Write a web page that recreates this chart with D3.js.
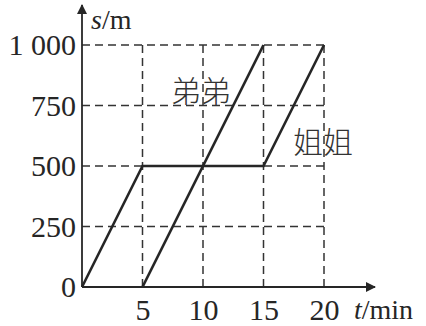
<!DOCTYPE html>
<html>
<head>
<meta charset="utf-8">
<script src="https://cdn.jsdelivr.net/npm/d3@7"></script>
<style>
  html, body { margin: 0; padding: 0; background: #fff; }
  svg { display: block; }
  .grid line { stroke: #333; stroke-width: 1.5; stroke-dasharray: 8 5; }
</style>
</head>
<body>
<div id="chart"></div>
<script>
// values
const xTicks = [5, 10, 15, 20];
const yTicks = [0, 250, 500, 750, 1000];
const yTickLabels = ["0", "250", "500", "750", "1 000"];

const sisterT = [0, 5, 15, 20];
const sisterS = [0, 500, 500, 1000];
const brotherT = [5, 15];
const brotherS = [0, 1000];

const seriesNames = ["姐姐", "弟弟"];

const width = 426;
const height = 326;
const serif = "'Liberation Serif', 'DejaVu Serif', serif";

const x = d3.scaleLinear().domain([0, 20]).range([82, 324]);
const y = d3.scaleLinear().domain([0, 1000]).range([287, 45]);

const svg = d3.select("#chart")
              .append("svg")
              .attr("width", width)
              .attr("height", height);

const ink = "#262626";

// dashed grid: horizontal
svg.append("g")
   .attr("class", "grid")
   .selectAll("line")
   .data(yTicks.filter(d => d > 0))
   .enter()
   .append("line")
   .attr("x1", x(0))
   .attr("x2", x(20))
   .attr("y1", d => y(d))
   .attr("y2", d => y(d));

// dashed grid: vertical
svg.append("g")
   .attr("class", "grid")
   .selectAll("line")
   .data(xTicks)
   .enter()
   .append("line")
   .attr("x1", d => x(d))
   .attr("x2", d => x(d))
   .attr("y1", y(0))
   .attr("y2", y(1000));

// y tick labels
const yAxis = d3.axisLeft(y)
                .tickValues(yTicks)
                .tickSize(0)
                .tickPadding(5)
                .tickFormat((d, i) => yTickLabels[i]);

const gy = svg.append("g")
              .attr("transform", `translate(${x(0) - 1},0)`)
              .call(yAxis)
              .attr("font-family", serif)
              .attr("font-size", 30);
gy.select(".domain").remove();
gy.selectAll(".tick text")
  .attr("dy", "0.33em")
  .attr("fill", ink);

// x tick labels
const xAxis = d3.axisBottom(x)
                .tickValues(xTicks)
                .tickSize(0)
                .tickPadding(0);

const gx = svg.append("g")
              .attr("transform", `translate(0,${y(0)})`)
              .call(xAxis)
              .attr("font-family", serif)
              .attr("font-size", 30);
gx.select(".domain").remove();
gx.selectAll(".tick text")
  .attr("dy", "1.1em")
  .attr("fill", ink);

// axes with arrows
svg.append("defs")
   .append("marker")
   .attr("id", "arrow")
   .attr("viewBox", "0 0 10 10")
   .attr("refX", 9)
   .attr("refY", 5)
   .attr("markerWidth", 10)
   .attr("markerHeight", 10)
   .attr("markerUnits", "userSpaceOnUse")
   .attr("orient", "auto")
   .append("path")
   .attr("d", "M0,0 L10,5 L0,10 Z")
   .attr("fill", ink);

svg.append("line")
   .attr("x1", x(0)).attr("y1", y(0))
   .attr("x2", x(0)).attr("y2", 5)
   .attr("stroke", ink)
   .attr("stroke-width", 1.8)
   .attr("marker-end", "url(#arrow)");

svg.append("line")
   .attr("x1", x(0)).attr("y1", y(0))
   .attr("x2", 375).attr("y2", y(0))
   .attr("stroke", ink)
   .attr("stroke-width", 1.8)
   .attr("marker-end", "url(#arrow)");

// axis titles
const axisTitle = (tx, ty, ital, rest) => {
  const t = svg.append("text")
               .attr("x", tx)
               .attr("y", ty)
               .attr("font-family", serif)
               .attr("font-size", 28)
               .attr("fill", ink);
  t.append("tspan").attr("font-style", "italic").text(ital);
  t.append("tspan").text(rest);
};
axisTitle(91, 29, "s", "/m");
axisTitle(354, 319, "t", "/min");

// lines
const line = d3.line()
               .x(d => x(d[0]))
               .y(d => y(d[1]));

const sister = sisterT.map((t, i) => [t, sisterS[i]]);
const brother = brotherT.map((t, i) => [t, brotherS[i]]);

svg.selectAll("path.series")
   .data([sister, brother])
   .enter()
   .append("path")
   .attr("class", "series")
   .attr("d", line)
   .attr("fill", "none")
   .attr("stroke", ink)
   .attr("stroke-width", 2.6)
   .attr("stroke-linejoin", "miter");

// series labels
svg.selectAll("text.name")
   .data([[seriesNames[0], 323, 153], [seriesNames[1], 201, 102]])
   .enter()
   .append("text")
   .attr("class", "name")
   .attr("x", d => d[1])
   .attr("y", d => d[2])
   .attr("text-anchor", "middle")
   .attr("font-family", "'Noto Sans CJK SC', sans-serif")
   .attr("font-weight", 300)
   .attr("font-size", 30)
   .attr("fill", "#333")
   .text(d => d[0]);
</script>
</body>
</html>
